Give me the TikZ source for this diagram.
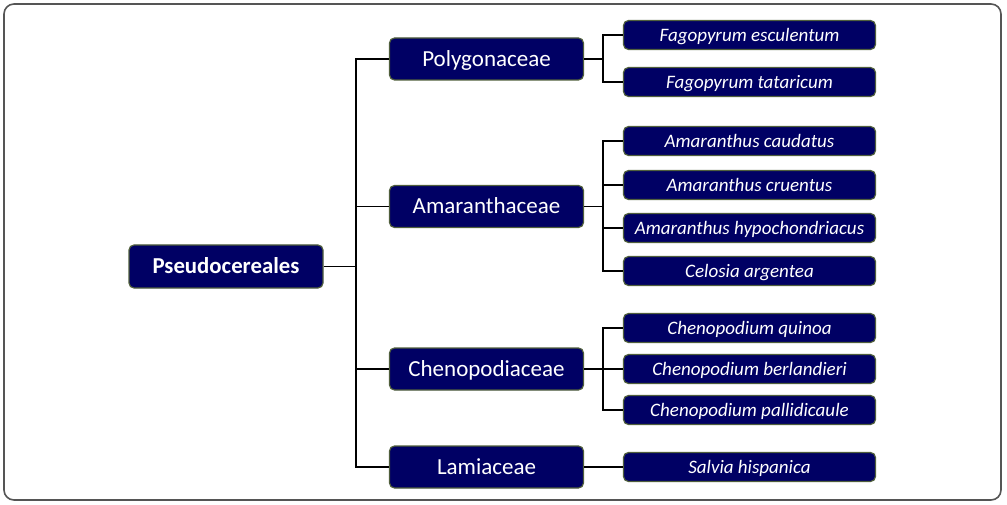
\documentclass[tikz,border=0pt]{standalone}
\usepackage{fontspec}
\setmainfont{Carlito}
\definecolor{boxfill}{RGB}{0,0,100}
\definecolor{boxline}{RGB}{80,95,60}
\definecolor{framec}{RGB}{85,85,85}
\begin{document}
\begin{tikzpicture}[x=1pt,y=-1pt,
  basebox/.style={draw=boxline, line width=1.2pt, fill=boxfill, text=white, rounded corners=5pt, inner sep=0pt, anchor=center, text depth=0pt},
  rootbox/.style={basebox, minimum width=194pt, minimum height=43pt, text height=14.6pt, font=\fontsize{22.8}{26}\selectfont\bfseries},
  fambox/.style={basebox, minimum width=194pt, minimum height=42pt, text height=14.7pt, font=\fontsize{23}{26}\selectfont},
  spbox/.style={basebox, minimum width=252pt, minimum height=29pt, text height=12.2pt, font=\fontsize{19}{22}\selectfont\itshape},
  link/.style={draw=black, line width=1.5pt}]
\useasboundingbox (0,0) rectangle (1007,505);
\draw[framec, line width=1.6pt, rounded corners=10pt] (4,4) rectangle (1001,500);

\node[rootbox] (root) at (226,266.5) {Pseudocereales};

\node[fambox] (poly) at (486.5,59) {Polygonaceae};
\node[fambox] (amar) at (486.5,206.5) {Amaranthaceae};
\node[fambox] (cheno) at (486.5,369) {Chenopodiaceae};
\node[fambox] (lami) at (486.5,467) {Lamiaceae};

\node[spbox] (fe) at (749.5,35) {Fagopyrum esculentum};
\node[spbox] (ft) at (749.5,82) {Fagopyrum tataricum};
\node[spbox] (ac) at (749.5,141) {Amaranthus caudatus};
\node[spbox] (acr) at (749.5,185) {Amaranthus cruentus};
\node[spbox] (ah) at (749.5,228) {Amaranthus hypochondriacus};
\node[spbox] (ca) at (749.5,271) {Celosia argentea};
\node[spbox] (cq) at (749.5,328) {Chenopodium quinoa};
\node[spbox] (cb) at (749.5,369) {Chenopodium berlandieri};
\node[spbox] (cp) at (749.5,410) {Chenopodium pallidicaule};
\node[spbox] (sh) at (749.5,467) {Salvia hispanica};

% root to families
\coordinate (j0) at (356,266.5);
\path[link] (root.east) -- (j0);
\path[link] (poly.west) -- (poly.west -| j0) -- (lami.west -| j0) -- (lami.west);
\path[link] (amar.west) -- (amar.west -| j0);
\path[link] (cheno.west) -- (cheno.west -| j0);

% Polygonaceae
\coordinate (j1) at (603,59);
\path[link] (poly.east) -- (j1);
\path[link] (fe.west) -- (fe.west -| j1) -- (ft.west -| j1) -- (ft.west);

% Amaranthaceae
\coordinate (j2) at (603,206.5);
\path[link] (amar.east) -- (j2);
\path[link] (ac.west) -- (ac.west -| j2) -- (ca.west -| j2) -- (ca.west);
\path[link] (acr.west) -- (acr.west -| j2);
\path[link] (ah.west) -- (ah.west -| j2);

% Chenopodiaceae
\coordinate (j3) at (603,369);
\path[link] (cheno.east) -- (j3);
\path[link] (cq.west) -- (cq.west -| j3) -- (cp.west -| j3) -- (cp.west);
\path[link] (cb.west) -- (cb.west -| j3);

% Lamiaceae
\path[link] (lami.east) -- (sh.west);
\end{tikzpicture}
\end{document}
